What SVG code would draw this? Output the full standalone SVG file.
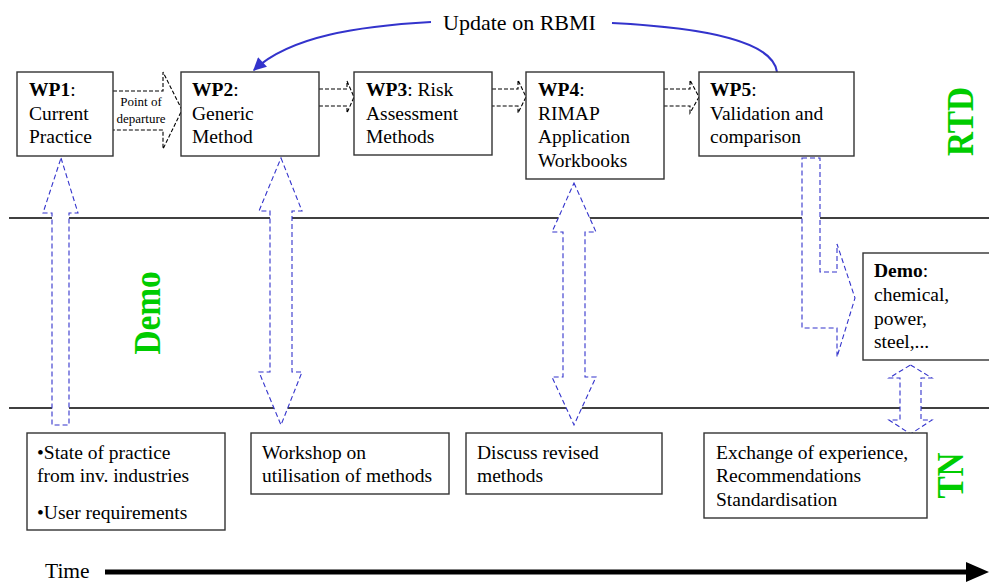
<svg xmlns="http://www.w3.org/2000/svg" width="989" height="582" viewBox="0 0 989 582">
<style>
.box{fill:#fff;stroke:#333;stroke-width:1.4}
.t{font-family:"Liberation Serif","Times New Roman",serif;font-size:19.5px;fill:#000}
.small{font-size:13px}
.b{font-weight:bold}
.bd{fill:#fff;stroke:#3333cc;stroke-width:1.1;stroke-dasharray:5 3}
.kd{fill:#fff;stroke:#000;stroke-width:1.1;stroke-dasharray:4 2}
.g{font-family:"Liberation Serif","Times New Roman",serif;font-size:37px;font-weight:bold;fill:#00cc00}
.sep{stroke:#000;stroke-width:1.3}
.curve{fill:none;stroke:#3333cc;stroke-width:2}
</style>
<defs>
<marker id="bh" viewBox="0 0 10 10" refX="9" refY="5" markerUnits="userSpaceOnUse" markerWidth="15" markerHeight="13" orient="auto">
<path d="M0,0 L10,5 L0,10 z" fill="#3333cc"/>
</marker>
</defs>
<rect width="989" height="582" fill="#fff"/>

<g id="lanes">
<line class="sep" x1="9" y1="218" x2="989" y2="218"/>
<line class="sep" x1="9" y1="408" x2="989" y2="408"/>
<text class="g" transform="translate(160,313) rotate(-90) scale(0.9,1)" text-anchor="middle">Demo</text>
<text class="g" transform="translate(973,121.5) rotate(-90) scale(0.9,1)" text-anchor="middle">RTD</text>
<text class="g" transform="translate(963,475.5) rotate(-90) scale(0.9,1)" text-anchor="middle">TN</text>
</g>

<g id="connectors">
<path class="bd" d="M61,158 L78,213 L69,213 L69,425 L52,425 L52,213 L43,213 Z"/>
<path class="bd" d="M281,158 L302,211 L292,211 L292,372 L302,372 L281,425 L259,372 L270,372 L270,211 L259,211 Z"/>
<path class="bd" d="M574,183 L596,232 L585,232 L585,377 L596,377 L574,425 L552,377 L563,377 L563,232 L552,232 Z"/>
<path class="bd" d="M802,158 L820,158 L820,272 L837,272 L837,244 L855,298 L837,357 L837,328 L802,328 Z"/>
<path class="bd" d="M910.5,365 L932,378 L921,378 L921,420 L932,420 L910.5,434 L889,420 L900,420 L900,378 L889,378 Z"/>
<path class="kd" d="M113,91 L163,91 L163,72 L182,110 L163,149 L163,130 L113,130"/>
<text class="t small" x="141" y="106" text-anchor="middle">Point of</text>
<text class="t small" x="141" y="123" text-anchor="middle">departure</text>
<path class="kd" d="M319,89 L347,89 L347,81 L354,97 L347,113 L347,106 L319,106"/>
<path class="kd" d="M492,89 L518,89 L518,80 L526,97 L518,113 L518,106 L492,106"/>
<path class="kd" d="M664,89 L690,89 L690,80 L699,97 L690,113 L690,106 L664,106"/>
<path class="curve" d="M777,72 C773,42 710,28 612,23"/>
<path class="curve" d="M431,22 C360,26 290,36 254,70" marker-end="url(#bh)"/>
<text class="t" x="519.5" y="30" text-anchor="middle" style="font-size:22px">Update on RBMI</text>
<line x1="105" y1="572" x2="970" y2="572" stroke="#000" stroke-width="5"/>
<polygon points="966,562 989,572 966,582" fill="#000"/>
</g>

<g id="wp1">
<rect class="box" x="17" y="72" width="96" height="84"/>
<text class="t" x="29" y="96"><tspan class="b">WP1</tspan>:</text>
<text class="t" x="29" y="120">Current</text>
<text class="t" x="29" y="143">Practice</text>
</g>
<g id="wp2">
<rect class="box" x="181" y="72" width="138" height="84"/>
<text class="t" x="192" y="96"><tspan class="b">WP2</tspan>:</text>
<text class="t" x="192" y="120">Generic</text>
<text class="t" x="192" y="143">Method</text>
</g>
<g id="wp3">
<rect class="box" x="354" y="72" width="138" height="83"/>
<text class="t" x="366" y="96"><tspan class="b">WP3</tspan>: Risk</text>
<text class="t" x="366" y="120">Assessment</text>
<text class="t" x="366" y="143">Methods</text>
</g>
<g id="wp4">
<rect class="box" x="526" y="72" width="138" height="107"/>
<text class="t" x="538" y="96"><tspan class="b">WP4</tspan>:</text>
<text class="t" x="538" y="120">RIMAP</text>
<text class="t" x="538" y="143">Application</text>
<text class="t" x="538" y="167">Workbooks</text>
</g>
<g id="wp5">
<rect class="box" x="699" y="72" width="155" height="84"/>
<text class="t" x="710" y="96"><tspan class="b">WP5</tspan>:</text>
<text class="t" x="710" y="120">Validation and</text>
<text class="t" x="710" y="143">comparison</text>
</g>
<g id="demo">
<rect class="box" x="863" y="253" width="140" height="107"/>
<text class="t" x="874" y="277"><tspan class="b">Demo</tspan>:</text>
<text class="t" x="874" y="301">chemical,</text>
<text class="t" x="874" y="325">power,</text>
<text class="t" x="874" y="348">steel,...</text>
</g>
<g id="tn1">
<rect class="box" x="27" y="433" width="198" height="97"/>
<text class="t" x="37" y="459">•State of practice</text>
<text class="t" x="37" y="482">from inv. industries</text>
<text class="t" x="37" y="519">•User requirements</text>
</g>
<g id="tn2">
<rect class="box" x="251" y="433" width="198" height="61"/>
<text class="t" x="262" y="459">Workshop on</text>
<text class="t" x="262" y="482">utilisation of methods</text>
</g>
<g id="tn3">
<rect class="box" x="466" y="433" width="196" height="61"/>
<text class="t" x="477" y="459">Discuss revised</text>
<text class="t" x="477" y="482">methods</text>
</g>
<g id="tn4">
<rect class="box" x="704" y="433" width="223" height="85"/>
<text class="t" x="716" y="459">Exchange of experience,</text>
<text class="t" x="716" y="482">Recommendations</text>
<text class="t" x="716" y="506">Standardisation</text>
</g>
<g id="time">
<text class="t" x="45" y="578" style="font-size:21.5px">Time</text>
</g>
</svg>
